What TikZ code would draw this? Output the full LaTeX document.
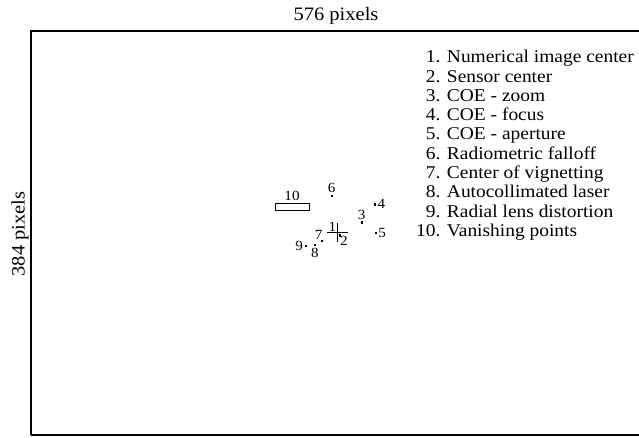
\documentclass[tikz,border=0pt]{standalone}
\usepackage{fontspec}
\setmainfont[FakeStretch=1.08]{Liberation Serif}
\usetikzlibrary{positioning}

\begin{document}
\begin{tikzpicture}[
  x=1pt, y=-1pt,
  big/.style={font=\fontsize{18}{19.3}\selectfont, inner sep=0pt},
  dimlbl/.style={font=\fontsize{19}{20}\selectfont, inner sep=0pt},
  lbl/.style={font=\fontsize{14}{14}\selectfont, inner sep=0.6pt},
  dotmark/.style={fill=black, inner sep=0pt, minimum size=2.4pt},
  mark line/.style={line width=0.9pt},
  frameline/.style={line width=2.6pt}
]
\useasboundingbox (0,0) rectangle (639,437);

% Image frame
\draw[frameline] (642,31) -- (31,31) -- (31,435);
\draw[line width=1.4pt] (31,435) -- (642,435);

% Dimensions
\node[dimlbl] (width) at (336,16) {576 pixels};
\node[dimlbl, rotate=90] (height) at (20,234) {384 pixels};

% Legend
\node[big, anchor=north west] (legend) at (416,49) {%
\begin{tabular}{@{}r@{ }l@{}}
1. & Numerical image center\\
2. & Sensor center\\
3. & COE - zoom\\
4. & COE - focus\\
5. & COE - aperture\\
6. & Radiometric falloff\\
7. & Center of vignetting\\
8. & Autocollimated laser\\
9. & Radial lens distortion\\
10. & Vanishing points
\end{tabular}};

% Numerical image center (cross)
\coordinate (c1) at (337.5,232.5);
\draw[mark line] (327,232.5) -- (347.5,232.5);
\draw[mark line] (337.5,223) -- (337.5,242);
\node[lbl, anchor=south east] (l1) at ([xshift=-0.6pt]c1) {1};

% Points
\node[dotmark] (d2) at (340,235.5) {};
\node[dotmark] (d3) at (361.7,222.3) {};
\node[dotmark] (d4) at (375,204.3) {};
\node[dotmark] (d5) at (375.7,232.7) {};
\node[dotmark] (d6) at (331.7,196) {};
\node[dotmark] (d7) at (321.7,241) {};
\node[dotmark] (d8) at (315,245) {};
\node[dotmark] (d9) at (305.7,246) {};
\node[draw, line width=1pt, inner sep=0pt, minimum width=34pt, minimum height=7pt] (r10) at (292,206.5) {};

\node[lbl, below right=-1pt and -2pt of d2] (l2) {2};
\node[lbl, above=0.5pt of d3] (l3) {3};
\node[lbl, right=0.5pt of d4] (l4) {4};
\node[lbl, right=0.5pt of d5] (l5) {5};
\node[lbl, above=1pt of d6] (l6) {6};
\node[lbl, above left=-1pt and -3pt of d7] (l7) {7};
\node[lbl, below=0.5pt of d8] (l8) {8};
\node[lbl, left=0.5pt of d9] (l9) {9};
\node[lbl, above=1pt of r10] (l10) {10};

\end{tikzpicture}
\end{document}
